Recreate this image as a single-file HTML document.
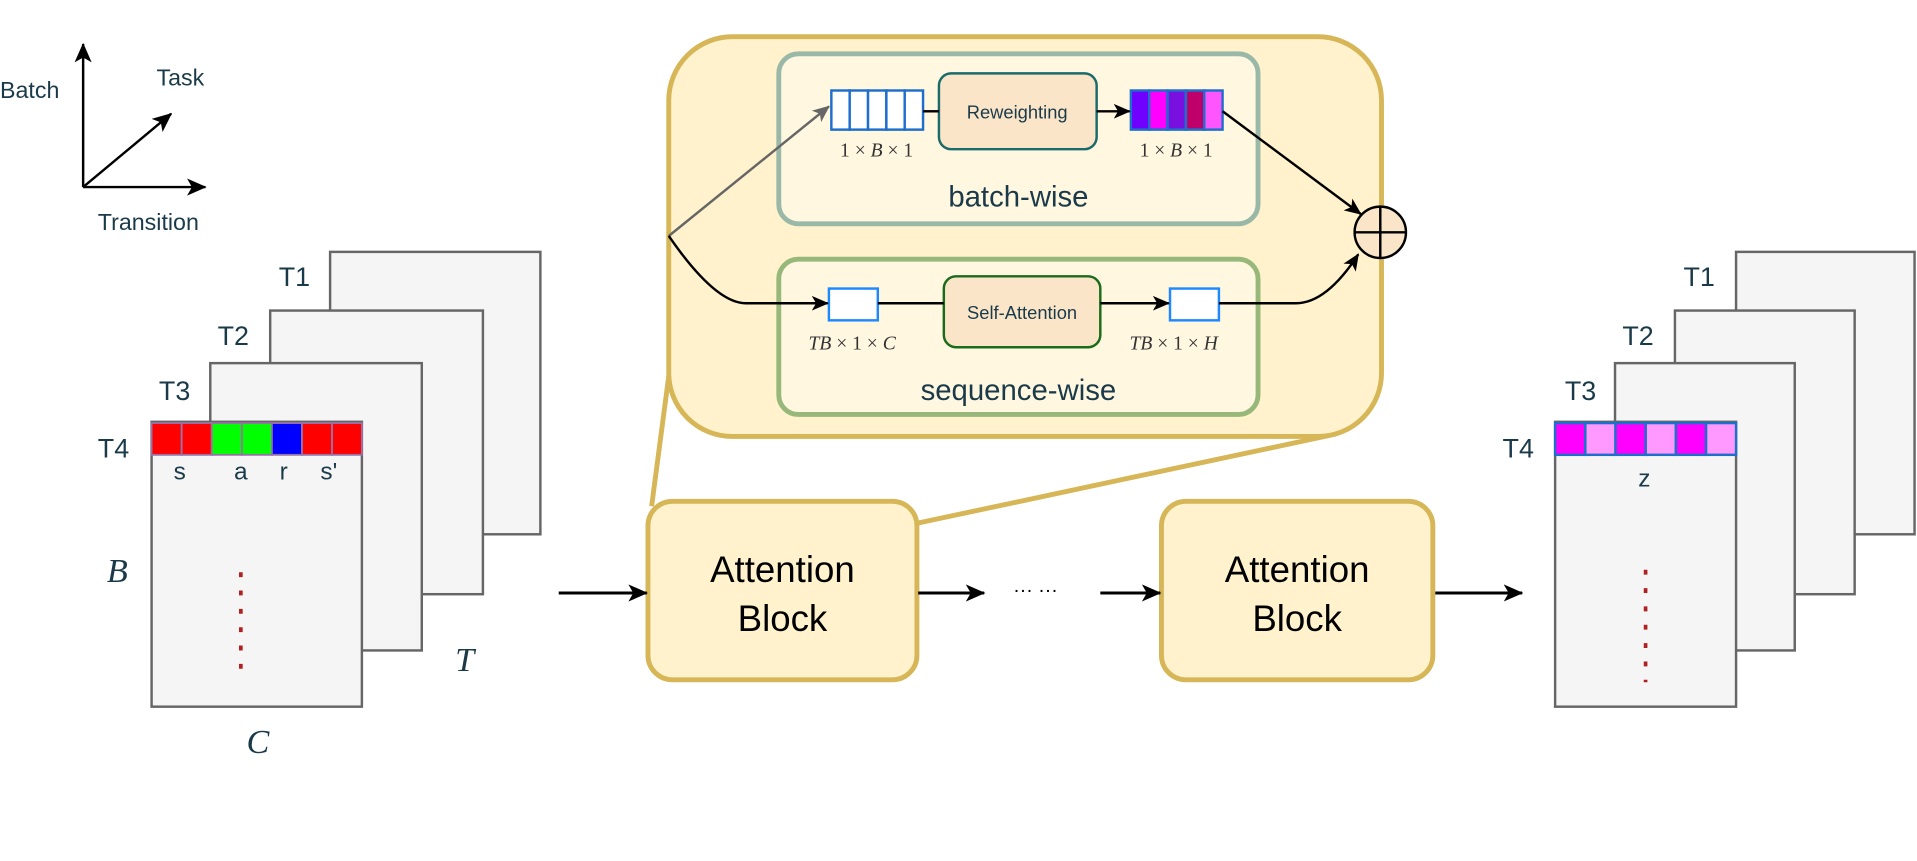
<!DOCTYPE html>
<html><head><meta charset="utf-8"><style>html,body{margin:0;padding:0;background:#fff}svg{display:block}</style></head>
<body>
<svg width="1917" height="861" viewBox="0 0 1568 704.2" xmlns="http://www.w3.org/2000/svg" font-family="Liberation Sans, sans-serif">
<defs>
<marker id="a" markerWidth="14" markerHeight="12" refX="13" refY="6" orient="auto" markerUnits="userSpaceOnUse"><path d="M0,0 L14,6 L0,12 L3.5,6 z" fill="#000"/></marker>
<marker id="g" markerWidth="14" markerHeight="12" refX="13" refY="6" orient="auto" markerUnits="userSpaceOnUse"><path d="M0,0 L14,6 L0,12 L3.5,6 z" fill="#666"/></marker>
<marker id="b" markerWidth="16" markerHeight="14" refX="15" refY="7" orient="auto" markerUnits="userSpaceOnUse"><path d="M0,0 L16,7 L0,14 L4,7 z" fill="#000"/></marker>
</defs>
<!-- axes -->
<g stroke="#000" stroke-width="2" fill="none">
<line x1="68" y1="153" x2="68" y2="36" marker-end="url(#b)"/>
<line x1="68" y1="153" x2="168" y2="153" marker-end="url(#b)"/>
<line x1="68" y1="153" x2="140" y2="93" marker-end="url(#b)"/>
</g>
<g fill="#1a3a4a" font-size="19">
<text x="0" y="80">Batch</text><text x="128" y="70">Task</text><text x="80" y="188">Transition</text>
</g>
<!-- left stack -->
<g fill="#f5f5f5" stroke="#666" stroke-width="2">
<rect x="270" y="206" width="172" height="231"/>
<rect x="221" y="254" width="174" height="232"/>
<rect x="172" y="297" width="173" height="235"/>
<rect x="124" y="345" width="172" height="233"/>
</g>
<g fill="#1a3a4a" font-size="22">
<text x="228" y="234">T1</text><text x="178" y="282">T2</text><text x="130" y="327">T3</text><text x="80" y="374">T4</text>
</g>
<g stroke="#9673a6" stroke-width="1.5">
<rect x="124" y="346" width="24.6" height="26" fill="#f00"/>
<rect x="148.6" y="346" width="24.6" height="26" fill="#f00"/>
<rect x="173.2" y="346" width="24.6" height="26" fill="#0f0"/>
<rect x="197.8" y="346" width="24.6" height="26" fill="#0f0"/>
<rect x="222.4" y="346" width="24.6" height="26" fill="#00f"/>
<rect x="247" y="346" width="24.6" height="26" fill="#f00"/>
<rect x="271.6" y="346" width="24.4" height="26" fill="#f00"/>
</g>
<g fill="#1a3a4a" font-size="20" text-anchor="middle">
<text x="147" y="392">s</text><text x="197" y="392">a</text><text x="232" y="392">r</text><text x="269" y="392">s'</text>
</g>
<g fill="#1a3a4a" font-family="Liberation Serif, serif" font-style="italic" font-size="28" text-anchor="middle">
<text x="96" y="476">B</text><text x="211" y="616">C</text><text x="380" y="549">T</text>
</g>
<line x1="197" y1="468" x2="197" y2="558" stroke="#b02020" stroke-width="3" stroke-dasharray="4,11"/>
<!-- zoom lines -->
<g stroke="#d6b656" stroke-width="4" fill="none">
<line x1="548" y1="300" x2="533" y2="414"/>
<line x1="1088" y1="356" x2="750" y2="428"/>
</g>
<!-- big container -->
<rect x="547" y="30" width="583" height="327" rx="52" fill="#fff2cc" stroke="#d6b656" stroke-width="4"/>
<rect x="637" y="44" width="392" height="139" rx="16" fill="#fff7e0" stroke="#9ab8a8" stroke-width="4"/>
<rect x="637" y="212" width="392" height="127" rx="16" fill="#fff7e0" stroke="#97b87a" stroke-width="4"/>
<text x="833" y="169" text-anchor="middle" font-size="24" fill="#1a3a4a">batch-wise</text>
<text x="833" y="327" text-anchor="middle" font-size="24" fill="#1a3a4a">sequence-wise</text>
<!-- batch row -->
<g stroke="#1e6fcc" stroke-width="2" fill="#fff">
<rect x="680" y="74" width="15" height="32"/><rect x="695" y="74" width="15" height="32"/><rect x="710" y="74" width="15" height="32"/><rect x="725" y="74" width="15" height="32"/><rect x="740" y="74" width="15" height="32"/>
</g>
<g stroke="#1e6fcc" stroke-width="2">
<rect x="925" y="74" width="15" height="32" fill="#7000ff"/><rect x="940" y="74" width="15" height="32" fill="#ff00ff"/><rect x="955" y="74" width="15" height="32" fill="#7a10e0"/><rect x="970" y="74" width="15" height="32" fill="#c0006a"/><rect x="985" y="74" width="15" height="32" fill="#ff55ff"/>
</g>
<rect x="768" y="60" width="129" height="62" rx="10" fill="#fae5c8" stroke="#1a6b6b" stroke-width="2"/>
<text x="832" y="97" text-anchor="middle" font-size="15" fill="#1a3a4a">Reweighting</text>
<g font-family="Liberation Serif, serif" font-size="16" fill="#333" text-anchor="middle">
<text x="717" y="128">1 × <tspan font-style="italic">B</tspan> × 1</text>
<text x="962" y="128">1 × <tspan font-style="italic">B</tspan> × 1</text>
<text x="697" y="286"><tspan font-style="italic">TB</tspan> × 1 × <tspan font-style="italic">C</tspan></text>
<text x="960" y="286"><tspan font-style="italic">TB</tspan> × 1 × <tspan font-style="italic">H</tspan></text>
</g>
<!-- seq row -->
<rect x="678" y="236" width="40" height="26" fill="#fff" stroke="#1e88ff" stroke-width="2"/>
<rect x="957" y="236" width="40" height="26" fill="#fff" stroke="#1e88ff" stroke-width="2"/>
<rect x="772" y="226" width="128" height="58" rx="10" fill="#fae5c8" stroke="#1a6b1a" stroke-width="2"/>
<text x="836" y="261" text-anchor="middle" font-size="15" fill="#1a3a4a">Self-Attention</text>
<!-- connectors -->
<g stroke="#000" stroke-width="2" fill="none">
<line x1="547" y1="193" x2="678" y2="87" stroke="#666" marker-end="url(#g)"/>
<path d="M547,193 Q585,248 610,248 L677,248" marker-end="url(#a)"/>
<line x1="755" y1="91" x2="768" y2="91"/>
<line x1="897" y1="91" x2="924" y2="91" marker-end="url(#a)"/>
<line x1="1000" y1="91" x2="1113" y2="175" marker-end="url(#a)"/>
<line x1="718" y1="248" x2="772" y2="248"/>
<line x1="900" y1="248" x2="956" y2="248" marker-end="url(#a)"/>
<path d="M997,248 L1060,248 Q1085,248 1111,208" marker-end="url(#a)"/>
</g>
<circle cx="1129" cy="190" r="21" fill="#fae5c8" stroke="#000" stroke-width="2"/>
<path d="M1108,190 H1150 M1129,169 V211" stroke="#000" stroke-width="2"/>
<!-- attention blocks -->
<rect x="530" y="410" width="220" height="146" rx="20" fill="#fff2cc" stroke="#d6b656" stroke-width="4"/>
<rect x="950" y="410" width="222" height="146" rx="20" fill="#fff2cc" stroke="#d6b656" stroke-width="4"/>
<g font-size="30" fill="#000" text-anchor="middle">
<text x="640" y="476">Attention</text><text x="640" y="516">Block</text>
<text x="1061" y="476">Attention</text><text x="1061" y="516">Block</text>
</g>
<g stroke="#000" stroke-width="2.5" fill="none">
<line x1="457" y1="485" x2="529" y2="485" marker-end="url(#b)"/>
<line x1="751" y1="485" x2="805" y2="485" marker-end="url(#b)"/>
<line x1="900" y1="485" x2="949" y2="485" marker-end="url(#b)"/>
<line x1="1174" y1="485" x2="1245" y2="485" marker-end="url(#b)"/>
</g>
<text x="847" y="488" text-anchor="middle" font-size="16">··· ···</text>
<!-- right stack -->
<g fill="#f5f5f5" stroke="#666" stroke-width="2">
<rect x="1420" y="206" width="146" height="231"/>
<rect x="1370" y="254" width="147" height="232"/>
<rect x="1321" y="297" width="147" height="235"/>
<rect x="1272" y="345" width="148" height="233"/>
</g>
<g fill="#1a3a4a" font-size="22">
<text x="1377" y="234">T1</text><text x="1327" y="282">T2</text><text x="1280" y="327">T3</text><text x="1229" y="374">T4</text>
</g>
<g stroke="#1e6fcc" stroke-width="2">
<rect x="1272" y="346" width="24.7" height="26" fill="#ff00ff"/>
<rect x="1296.7" y="346" width="24.7" height="26" fill="#ff99ff"/>
<rect x="1321.4" y="346" width="24.7" height="26" fill="#ff00ff"/>
<rect x="1346.1" y="346" width="24.7" height="26" fill="#ff99ff"/>
<rect x="1370.8" y="346" width="24.7" height="26" fill="#ff00ff"/>
<rect x="1395.5" y="346" width="24.5" height="26" fill="#ff99ff"/>
</g>
<text x="1345" y="398" text-anchor="middle" font-size="20" fill="#1a3a4a">z</text>
<line x1="1346" y1="466" x2="1346" y2="558" stroke="#b02020" stroke-width="3" stroke-dasharray="4,11"/>
</svg>
</body></html>
